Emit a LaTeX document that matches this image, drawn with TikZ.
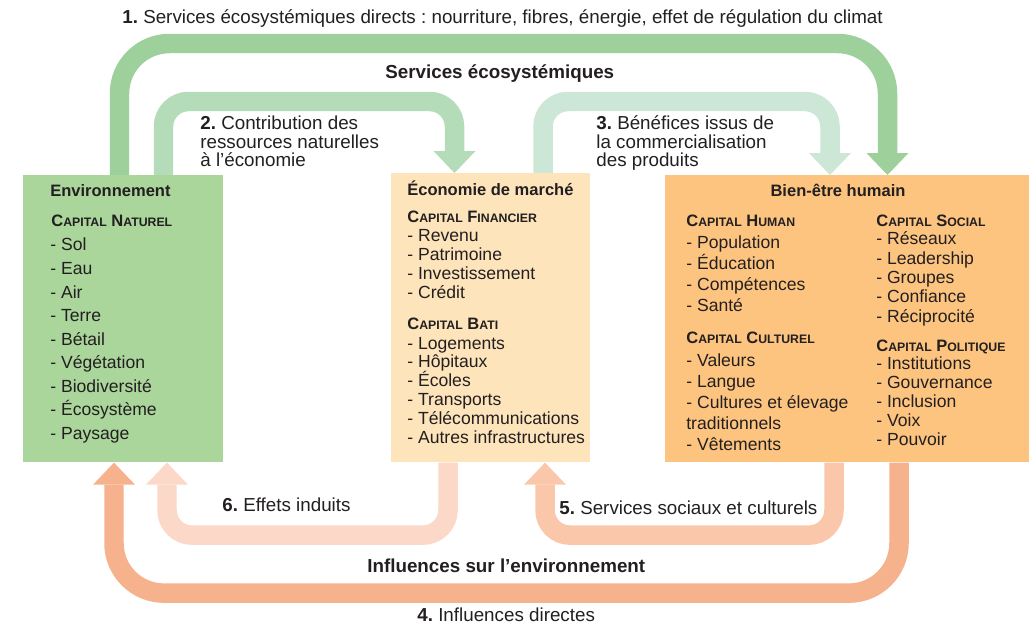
\documentclass[tikz,border=0pt]{standalone}
\usepackage{fontspec}
\setmainfont{Liberation Sans}
\frenchspacing
\usetikzlibrary{arrows.meta, calc}

\definecolor{ink}{HTML}{231F20}
\definecolor{envfill}{HTML}{AAD59B}
\definecolor{ecofill}{HTML}{FDE4BB}
\definecolor{bienfill}{HTML}{FDC47F}
\definecolor{flowA}{HTML}{9DD09A}
\definecolor{flowB}{HTML}{B4DCB8}
\definecolor{flowC}{HTML}{CDE7D6}
\definecolor{flowD}{HTML}{F6B28D}
\definecolor{flowE}{HTML}{FAC7AB}
\definecolor{flowF}{HTML}{FBD8C7}

% "Capital X" heading in small capitals
\newcommand{\capname}[2]{C{\fontsize{7}{7}\selectfont APITAL} #1{\fontsize{7}{7}\selectfont #2}}

\tikzset{
  panel/.style={anchor=north west, inner sep=0pt},
  entry/.style={anchor=base west, inner sep=0pt, font=\fontsize{10}{10}\selectfont},
  boxtitle/.style={anchor=base west, inner sep=0pt, font=\bfseries\fontsize{9.4}{9.4}\selectfont},
  flowtext/.style={anchor=base west, inner sep=0pt, align=left, font=\fontsize{10.7}{10.65}\selectfont},
  flow/.style={line width=0.39cm, rounded corners=#1, -{Triangle[width=0.84cm, length=0.44cm, line width=0pt]}},
}

\begin{document}
\begin{tikzpicture}[x=0.02cm, y=-0.02cm, text=ink]
\useasboundingbox (0,0) rectangle (1029,625);

% the three boxes
\node[panel, fill=envfill, minimum width=4cm, minimum height=5.74cm] (env) at (23,175) {};
\node[panel, fill=ecofill, minimum width=3.98cm, minimum height=5.78cm] (eco) at (391,173) {};
\node[panel, fill=bienfill, minimum width=7.28cm, minimum height=5.74cm] (bien) at (665,175) {};

% Environnement
\node[boxtitle] (env-title) at (50,196) {Environnement};
\node[boxtitle] (env-cap) at (51,227) {\capname{N}{ATUREL}};
\foreach \t [count=\i from 0] in {Sol, Eau, Air, Terre, Bétail, Végétation, Biodiversité, Écosystème, Paysage}
  \node[entry] (env-\i) at (50,{251+23.5*\i}) {- \t};

% Economie de marche
\node[boxtitle] (eco-title) at (407,195) {Économie de marché};
\node[boxtitle] (eco-fin) at (407,223) {\capname{F}{INANCIER}};
\foreach \t [count=\i from 0] in {Revenu, Patrimoine, Investissement, Crédit}
  \node[entry] (fin-\i) at (407,{242+18.7*\i}) {- \t};
\node[boxtitle] (eco-bati) at (407,330) {\capname{B}{ATI}};
\foreach \t [count=\i from 0] in {Logements, Hôpitaux, Écoles, Transports, Télécommunications, Autres infrastructures}
  \node[entry] (bati-\i) at (407,{349+18.8*\i}) {- \t};

% Bien-etre humain, two columns
\node[boxtitle, anchor=base] (bien-title) at (838,196) {Bien-être humain};
\node[boxtitle] (bien-hum) at (686,227) {\capname{H}{UMAN}};
\foreach \t [count=\i from 0] in {- Population, - Éducation, - Compétences, - Santé}
  \node[entry] (hum-\i) at (686,{249+21*\i}) {\t};
\node[boxtitle] (bien-cult) at (686,343) {\capname{C}{ULTUREL}};
\foreach \t [count=\i from 0] in {- Valeurs, - Langue, - Cultures et élevage, traditionnels, - Vêtements}
  \node[entry] (cult-\i) at (686,{366+21*\i}) {\t};
\node[boxtitle] (bien-soc) at (876,227) {\capname{S}{OCIAL}};
\foreach \t [count=\i from 0] in {Réseaux, Leadership, Groupes, Confiance, Réciprocité}
  \node[entry] (soc-\i) at (876,{245+19.25*\i}) {- \t};
\node[boxtitle] (bien-pol) at (876,352) {\capname{P}{OLITIQUE}};
\foreach \t [count=\i from 0] in {Institutions, Gouvernance, Inclusion, Voix, Pouvoir}
  \node[entry] (pol-\i) at (876,{369+19*\i}) {- \t};

% ecosystem services (top)
\draw[flow=1cm, flowA] ($(env.north west)+(96.5,0)$) -- ++(0,-131.5) -| ($(bien.north west)+(222.5,0)$);
\draw[flow=0.5cm, flowB] ($(env.north west)+(140.5,0)$) -- ++(0,-73.5) -| ($(eco.north west)+(63.5,0)$);
\draw[flow=0.5cm, flowC] ($(eco.north west)+(152,0)$) -- ++(0,-71.5) -| ($(bien.north west)+(165,0)$);

% influences on the environment (bottom)
\draw[flow=1cm, flowD] ($(bien.south west)+(234,0)$) -- ++(0,130.5) -| ($(env.south west)+(91,0)$);
\draw[flow=0.5cm, flowE] ($(bien.south west)+(169,0)$) -- ++(0,72.5) -| ($(eco.south west)+(154,0)$);
\draw[flow=0.5cm, flowF] ($(eco.south west)+(57,0)$) -- ++(0,72.5) -| ($(env.south west)+(144,0)$);

% flow labels (multi-line ones sit on their last line)
\node[flowtext] (lbl-1) at (122,24) {\textbf{1.} Services écosystémiques directs : nourriture, fibres, énergie, effet de régulation du climat};
\node[flowtext, font=\bfseries\fontsize{10.7}{10.7}\selectfont] (lbl-top) at (385,79) {Services écosystémiques};
\node[flowtext] (lbl-2) at (200,167) {\textbf{2.} Contribution des\\ressources naturelles\\à l’économie};
\node[flowtext] (lbl-3) at (596,167) {\textbf{3.} Bénéfices issus de\\la commercialisation\\des produits};
\node[flowtext] (lbl-6) at (222,511) {\textbf{6.} Effets induits};
\node[flowtext] (lbl-5) at (559,514) {\textbf{5.} Services sociaux et culturels};
\node[flowtext, font=\bfseries\fontsize{10.7}{10.7}\selectfont] (lbl-bot) at (367,572) {Influences sur l’environnement};
\node[flowtext] (lbl-4) at (417,621) {\textbf{4.} Influences directes};

\end{tikzpicture}
\end{document}
